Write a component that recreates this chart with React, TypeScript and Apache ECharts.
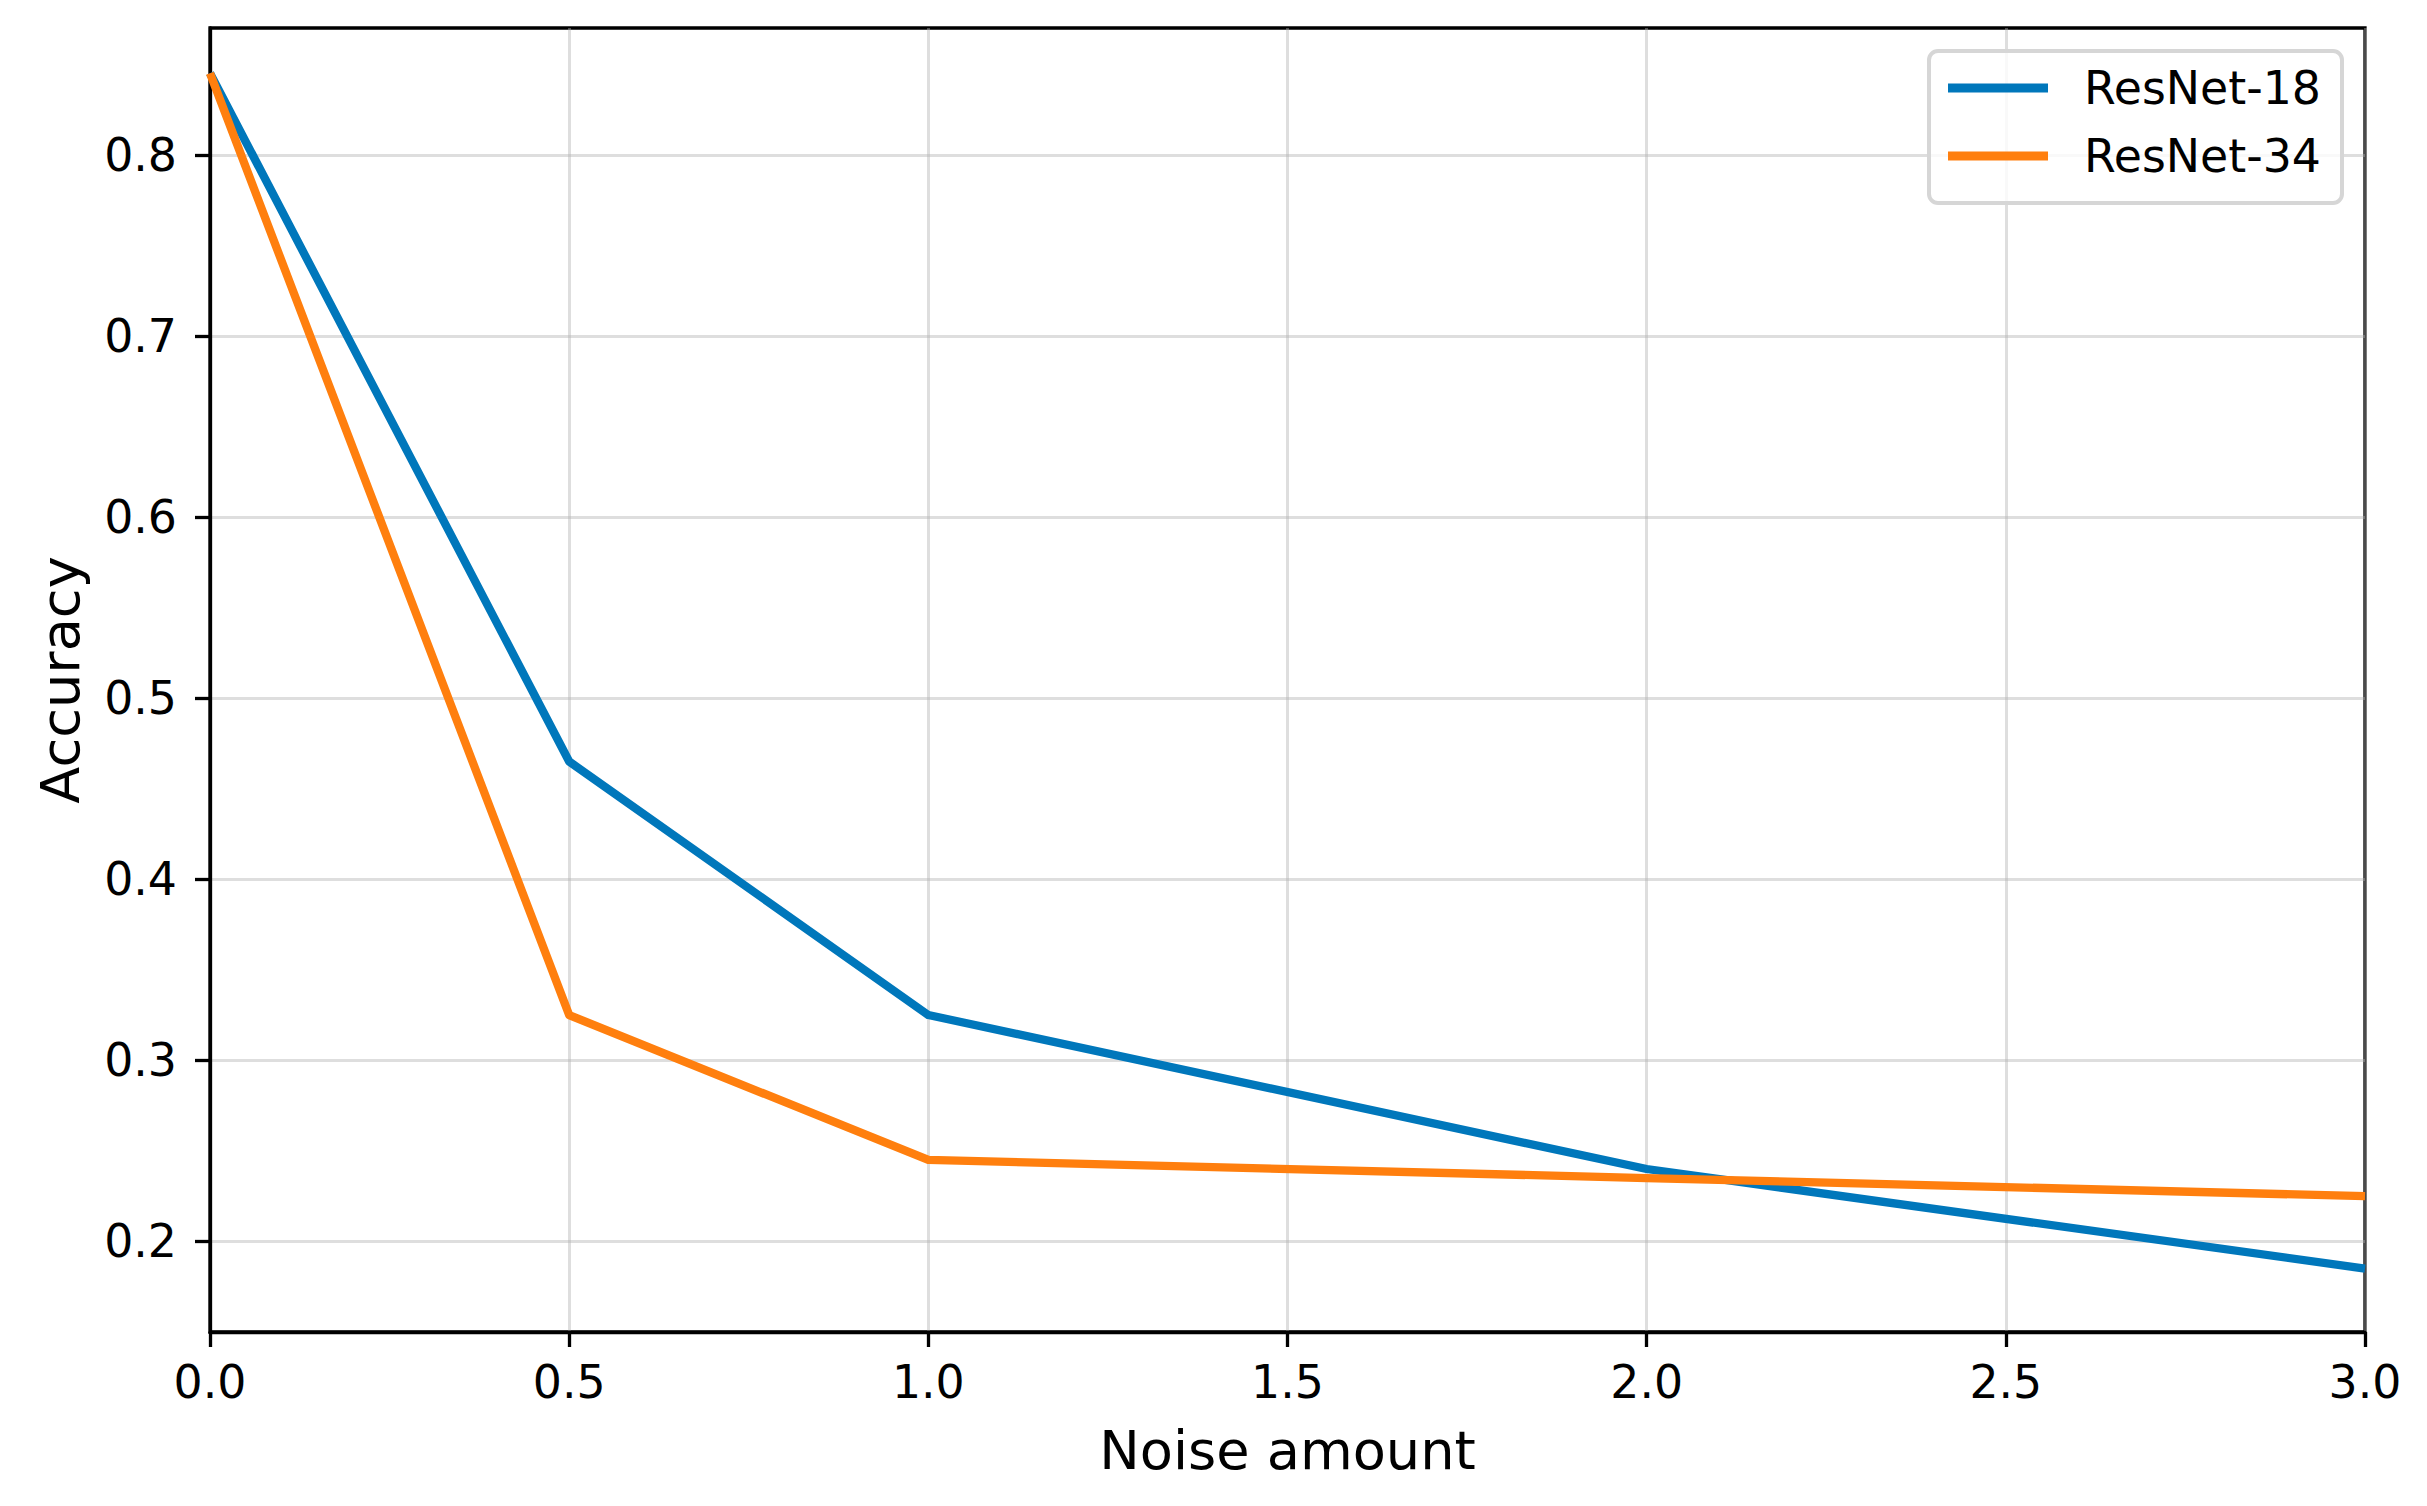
import React, { useEffect, useRef } from "react";
import * as echarts from "echarts";

const noiseLevels = [0, 0.5, 1.0, 2.0, 3.0];
const resnet18 = [0.845, 0.465, 0.325, 0.24, 0.185];
const resnet34 = [0.845, 0.325, 0.245, 0.235, 0.225];
const yTicks = [0.2, 0.3, 0.4, 0.5, 0.6, 0.7, 0.8];
const seriesNames = ["ResNet-18", "ResNet-34"];
const seriesColors = ["#0077bb", "#ff7f0e"];

const FONT = "DejaVu Sans";

export default function App() {
  const ref = useRef<HTMLDivElement>(null);
  useEffect(() => {
    if (!ref.current) return;
    const chart = echarts.init(ref.current, undefined, { renderer: "svg" });
    const toPairs = (ys: number[]) => noiseLevels.map((x, i) => [x, ys[i]]);
    const axisCommon = {
      axisLine: { show: true, lineStyle: { color: "#000", width: 3.3 } },
      axisTick: { show: true, inside: false, length: 15, lineStyle: { color: "#000", width: 3.3 } },
      splitLine: { show: true, lineStyle: { color: "rgba(176,176,176,0.42)", width: 3 } },
    };
    chart.setOption({
      animation: false,
      backgroundColor: "#fff",
      textStyle: { fontFamily: FONT },
      grid: {
        left: 210,
        right: 62,
        top: 28,
        bottom: 174,
        show: true,
        borderColor: "#000",
        borderWidth: 3.3,
        backgroundColor: "transparent",
      },
      legend: {
        orient: "vertical",
        right: 85,
        top: 51,
        icon: "rect",
        itemWidth: 100,
        itemHeight: 9,
        itemGap: 18,
        padding: [12, 21, 22, 19],
        backgroundColor: "rgba(255,255,255,0.8)",
        borderColor: "#d6d6d6",
        borderWidth: 4,
        borderRadius: 9,
        textStyle: {
          fontFamily: FONT,
          fontSize: 45.8,
          lineHeight: 50,
          color: "#000",
          padding: [0, 0, 0, 31],
        },
        data: seriesNames,
      },
      xAxis: {
        type: "value",
        min: 0,
        max: 3,
        interval: 0.5,
        name: "Noise amount",
        nameLocation: "middle",
        nameGap: 91,
        nameTextStyle: { fontFamily: FONT, fontSize: 54.2, color: "#000" },
        ...axisCommon,
        axisLabel: {
          show: true,
          margin: 27,
          fontFamily: FONT,
          fontSize: 45.8,
          color: "#000",
          formatter: (v: number) => v.toFixed(1),
        },
      },
      yAxis: {
        type: "value",
        min: 0.15,
        max: 0.87,
        name: "Accuracy",
        nameLocation: "middle",
        nameGap: 123,
        nameTextStyle: { fontFamily: FONT, fontSize: 54.2, color: "#000" },
        ...axisCommon,
        axisTick: {
          show: true,
          inside: false,
          length: 15,
          lineStyle: { color: "#000", width: 3.3 },
          customValues: yTicks,
        },
        axisLabel: {
          show: true,
          margin: 33,
          fontFamily: FONT,
          fontSize: 45.8,
          color: "#000",
          customValues: yTicks,
          formatter: (v: number) => v.toFixed(1),
        },
      },
      series: [
        {
          name: seriesNames[0],
          type: "line",
          data: toPairs(resnet18),
          showSymbol: false,
          symbol: "none",
          color: seriesColors[0],
          lineStyle: { color: seriesColors[0], width: 8.3, join: "round", cap: "butt" },
        },
        {
          name: seriesNames[1],
          type: "line",
          data: toPairs(resnet34),
          showSymbol: false,
          symbol: "none",
          color: seriesColors[1],
          lineStyle: { color: seriesColors[1], width: 8.3, join: "round", cap: "butt" },
        },
      ],
    });
    return () => chart.dispose();
  }, []);
  return (
    <div
      ref={ref}
      style={{ position: "fixed", left: 0, top: 0, width: 2427, height: 1506, background: "#fff" }}
    />
  );
}
